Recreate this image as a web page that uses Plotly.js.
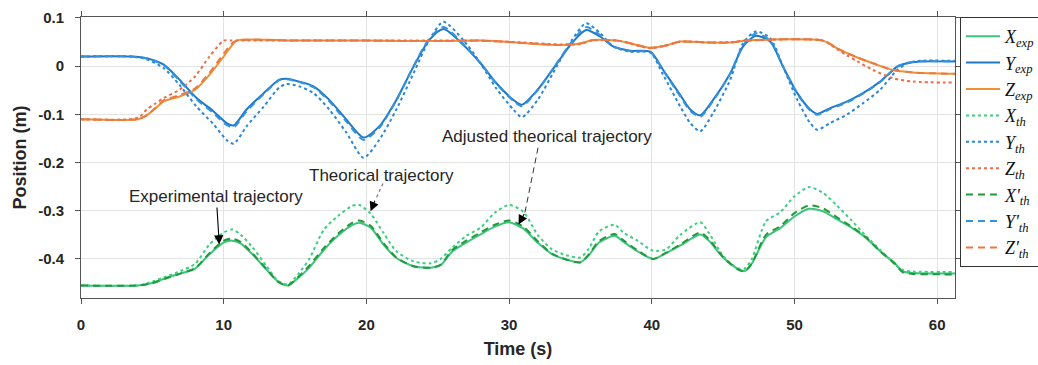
<!DOCTYPE html>
<html>
<head>
<meta charset="utf-8">
<script src="https://cdn.plot.ly/plotly-3.0.1.min.js"></script>
<style>html,body{margin:0;padding:0;background:#fff;}#chart{width:1038px;height:365px;}</style>
</head>
<body>
<div id="chart"></div>
<script>
// ---- Blue group (Y) ----
var tY = [0, 3.5, 4.6, 5.8, 6.9, 8.1, 9.3, 10.2, 10.7, 11.6, 12.8, 13.9, 14.4, 15.3, 16.3, 17.4, 18.6, 19.8, 20.9, 22.1, 23.3, 24.4, 25.4, 26.8, 28.0, 29.1, 30.3, 30.9, 32.0, 33.2, 34.4, 35.4, 36.4, 37.3, 38.5, 39.9, 40.8, 42.0, 42.7, 43.4, 44.3, 45.5, 46.4, 47.3, 48.3, 49.2, 50.2, 51.1, 51.6, 52.5, 53.7, 54.8, 56.0, 57.2, 57.9, 58.8, 61.3];
var yExp = [0.020, 0.020, 0.0165, 0.003, -0.028, -0.066, -0.094, -0.118, -0.123, -0.090, -0.056, -0.028, -0.026, -0.032, -0.042, -0.070, -0.111, -0.148, -0.125, -0.070, -0.001, 0.054, 0.077, 0.044, 0.006, -0.035, -0.070, -0.080, -0.049, -0.001, 0.048, 0.075, 0.061, 0.041, 0.032, 0.030, -0.008, -0.060, -0.090, -0.102, -0.070, -0.015, 0.041, 0.063, 0.051, -0.001, -0.056, -0.090, -0.099, -0.087, -0.073, -0.056, -0.032, -0.001, 0.006, 0.0095, 0.0095];
var yTh = [0.020, 0.020, 0.0145, -0.004, -0.039, -0.084, -0.121, -0.153, -0.161, -0.125, -0.084, -0.044, -0.037, -0.042, -0.056, -0.090, -0.138, -0.190, -0.153, -0.090, -0.015, 0.054, 0.092, 0.054, 0.006, -0.046, -0.090, -0.106, -0.070, -0.008, 0.054, 0.089, 0.068, 0.041, 0.030, 0.028, -0.018, -0.084, -0.118, -0.135, -0.097, -0.028, 0.048, 0.072, 0.058, -0.001, -0.070, -0.118, -0.132, -0.118, -0.100, -0.077, -0.049, -0.008, 0.006, 0.011, 0.011];
var yThAdj = [0.020, 0.020, 0.016, 0.002, -0.030, -0.069, -0.098, -0.122, -0.127, -0.094, -0.058, -0.029, -0.027, -0.033, -0.044, -0.073, -0.115, -0.153, -0.128, -0.071, 0.000, 0.057, 0.081, 0.046, 0.006, -0.036, -0.072, -0.083, -0.050, 0.000, 0.051, 0.081, 0.064, 0.041, 0.031, 0.029, -0.009, -0.063, -0.093, -0.105, -0.072, -0.015, 0.043, 0.068, 0.053, -0.001, -0.058, -0.092, -0.101, -0.089, -0.075, -0.057, -0.033, -0.001, 0.007, 0.010, 0.010];

// ---- Orange group (Z) ----
var tZ = [0, 4.0, 4.6, 5.2, 5.8, 6.9, 8.0, 9.0, 10.0, 10.5, 10.9, 15, 20, 25, 28, 29.5, 31, 33.6, 35.0, 35.8, 37.6, 38.7, 39.9, 41.0, 42.0, 44.0, 45.5, 46.6, 52.0, 53.0, 53.7, 54.4, 55.5, 56.9, 58.3, 61.3];
var zExp = [-0.110, -0.110, -0.102, -0.088, -0.073, -0.063, -0.049, -0.018, 0.020, 0.040, 0.053, 0.053, 0.053, 0.052, 0.053, 0.051, 0.048, 0.044, 0.047, 0.054, 0.053, 0.046, 0.038, 0.043, 0.051, 0.049, 0.049, 0.053, 0.053, 0.037, 0.027, 0.018, 0.006, -0.008, -0.013, -0.016];
var zTh = [-0.110, -0.107, -0.090, -0.078, -0.066, -0.049, -0.021, 0.020, 0.053, 0.053, 0.053, 0.053, 0.053, 0.053, 0.053, 0.051, 0.049, 0.045, 0.046, 0.053, 0.053, 0.045, 0.037, 0.043, 0.051, 0.049, 0.050, 0.053, 0.053, 0.035, 0.022, 0.010, -0.008, -0.025, -0.032, -0.034];
var zThAdj = [-0.110, -0.110, -0.102, -0.087, -0.071, -0.060, -0.046, -0.014, 0.026, 0.045, 0.053, 0.053, 0.053, 0.052, 0.053, 0.051, 0.048, 0.044, 0.047, 0.054, 0.053, 0.046, 0.038, 0.043, 0.051, 0.049, 0.049, 0.053, 0.053, 0.037, 0.027, 0.018, 0.006, -0.008, -0.013, -0.016];

// ---- Green group (X) ----
var tX = [0, 4, 5, 6, 7, 8, 9, 10, 10.6, 11.2, 12, 13, 13.8, 14.5, 15.2, 16, 17, 18, 19, 19.5, 20.3, 21.2, 22.1, 23.3, 24.5, 25.2, 26, 27, 28, 29, 30, 31, 32, 33, 34, 35, 35.6, 36.3, 37.4, 38, 39, 40.1, 41, 42, 43.4, 44, 45, 46, 46.5, 47, 48, 49, 50, 51, 52, 53, 54, 55, 56, 57, 57.6, 58.3, 61.3];
var xExp = [-0.455, -0.455, -0.450, -0.439, -0.430, -0.420, -0.390, -0.366, -0.362, -0.368, -0.390, -0.422, -0.447, -0.455, -0.440, -0.418, -0.382, -0.352, -0.330, -0.325, -0.335, -0.370, -0.398, -0.415, -0.418, -0.413, -0.385, -0.366, -0.349, -0.333, -0.324, -0.337, -0.366, -0.390, -0.401, -0.407, -0.392, -0.366, -0.352, -0.364, -0.384, -0.400, -0.388, -0.372, -0.349, -0.362, -0.397, -0.420, -0.425, -0.410, -0.355, -0.336, -0.312, -0.296, -0.301, -0.318, -0.335, -0.356, -0.384, -0.408, -0.426, -0.429, -0.430];
var xTh = [-0.455, -0.455, -0.447, -0.436, -0.425, -0.410, -0.370, -0.345, -0.339, -0.350, -0.375, -0.415, -0.445, -0.453, -0.432, -0.400, -0.340, -0.311, -0.290, -0.288, -0.306, -0.346, -0.384, -0.405, -0.409, -0.400, -0.377, -0.352, -0.335, -0.304, -0.288, -0.302, -0.350, -0.380, -0.392, -0.397, -0.378, -0.343, -0.329, -0.345, -0.362, -0.383, -0.380, -0.350, -0.324, -0.346, -0.394, -0.419, -0.420, -0.401, -0.322, -0.303, -0.270, -0.251, -0.263, -0.290, -0.320, -0.352, -0.381, -0.410, -0.423, -0.426, -0.427];
var xThAdj = [-0.455, -0.455, -0.450, -0.440, -0.430, -0.419, -0.388, -0.362, -0.358, -0.365, -0.388, -0.421, -0.447, -0.455, -0.438, -0.414, -0.378, -0.348, -0.325, -0.320, -0.331, -0.367, -0.397, -0.415, -0.418, -0.412, -0.382, -0.362, -0.345, -0.329, -0.320, -0.333, -0.363, -0.389, -0.401, -0.407, -0.390, -0.363, -0.348, -0.361, -0.382, -0.400, -0.387, -0.370, -0.345, -0.359, -0.396, -0.421, -0.426, -0.410, -0.350, -0.332, -0.305, -0.289, -0.295, -0.314, -0.333, -0.355, -0.384, -0.409, -0.428, -0.431, -0.432];

// ---- Labels ----
var legendNames = ['<i>X<sub>exp</sub></i>', '<i>Y<sub>exp</sub></i>', '<i>Z<sub>exp</sub></i>',
                   '<i>X<sub>th</sub></i>', '<i>Y<sub>th</sub></i>', '<i>Z<sub>th</sub></i>',
                   "<i>X'<sub>th</sub></i>", "<i>Y'<sub>th</sub></i>", "<i>Z'<sub>th</sub></i>"];
var xTickVals = [0, 10, 20, 30, 40, 50, 60];
var xTickText = ['0', '10', '20', '30', '40', '50', '60'];
var yTickVals = [0.1, 0, -0.1, -0.2, -0.3, -0.4];
var yTickText = ['0.1', '0', '-0.1', '-0.2', '-0.3', '-0.4'];
var annTexts = ['Experimental trajectory', 'Theorical trajectory', 'Adjusted theorical trajectory'];

function tr(t, v, name, color, dash, w) {
  return {x: t, y: v, name: name, type: 'scatter', mode: 'lines',
          line: {color: color, width: w || 2, dash: dash, shape: 'spline', smoothing: 0.7},
          hoverinfo: 'skip'};
}
var data = [
  tr(tX, xExp, legendNames[0], '#3cc47c', 'solid'),
  tr(tY, yExp, legendNames[1], '#1f78c8', 'solid'),
  tr(tZ, zExp, legendNames[2], '#ee9132', 'solid'),
  tr(tX, xTh, legendNames[3], '#3ccf80', 'dot'),
  tr(tY, yTh, legendNames[4], '#2b86d8', 'dot'),
  tr(tZ, zTh, legendNames[5], '#eb6e46', 'dot'),
  tr(tX, xThAdj, legendNames[6], '#22993a', '7px,5px'),
  tr(tY, yThAdj, legendNames[7], '#3393dd', '7px,5px'),
  tr(tZ, zThAdj, legendNames[8], '#ec7846', '7px,5px')
];

var tickFont = {family: 'Liberation Sans, Arial, sans-serif', size: 15, weight: 'bold', color: '#262626'};
var titleFont = {family: 'Liberation Sans, Arial, sans-serif', size: 18, weight: 'bold', color: '#262626'};
var annFont = {family: 'Liberation Sans, Arial, sans-serif', size: 17, color: '#262626'};

var layout = {
  width: 1038, height: 365,
  margin: {l: 81, r: 83, t: 17, b: 67, pad: 0, autoexpand: false},
  paper_bgcolor: '#ffffff', plot_bgcolor: '#ffffff',
  showlegend: true,
  legend: {x: 1.0057, xanchor: 'left', y: 1, yanchor: 'top',
           bgcolor: '#ffffff', bordercolor: '#333333', borderwidth: 1,
           font: {family: 'Liberation Serif, DejaVu Serif, serif', size: 18, color: '#111'},
           itemwidth: 34, tracegroupgap: 0},
  xaxis: {range: [0, 61.25], tickvals: xTickVals, ticktext: xTickText,
          ticks: 'outside', ticklen: 5, tickcolor: '#555', tickwidth: 1,
          showline: true, linecolor: '#555', linewidth: 1, mirror: 'ticks',
          showgrid: true, gridcolor: '#e3e3e3', gridwidth: 1, zeroline: false,
          tickfont: tickFont, ticklabelstandoff: 8,
          title: {text: 'Time (s)', font: titleFont, standoff: 10}},
  yaxis: {range: [-0.481, 0.102], tickvals: yTickVals, ticktext: yTickText,
          ticks: 'outside', ticklen: 5, tickcolor: '#555', tickwidth: 1,
          showline: true, linecolor: '#555', linewidth: 1, mirror: 'ticks',
          showgrid: true, gridcolor: '#e3e3e3', gridwidth: 1, zeroline: false,
          tickfont: tickFont, ticklabelstandoff: 8,
          title: {text: 'Position (m)', font: titleFont, standoff: 6}},
  shapes: [
    {type: 'line', xref: 'x', yref: 'y', x0: 21.16, y0: -0.2437, x1: 20.64, y1: -0.2768,
     line: {color: '#777', width: 1.2, dash: 'dot'}},
    {type: 'line', xref: 'x', yref: 'y', x0: 32.03, y0: -0.1693, x1: 31.11, y1: -0.3037,
     line: {color: '#333', width: 1, dash: '6px,4px'}}
  ],
  annotations: [
    {x: 9.69, y: -0.370, xref: 'x', yref: 'y', text: annTexts[0], font: annFont,
     showarrow: true, ax: -3, ay: -48, arrowhead: 2, arrowsize: 1.7, arrowwidth: 1.1, arrowcolor: '#000', standoff: 0},
    {x: 21.05, y: -0.2271, xref: 'x', yref: 'y', text: annTexts[1], font: annFont, showarrow: false},
    {x: 20.29, y: -0.301, xref: 'x', yref: 'y', text: '', showarrow: true, ax: 5, ay: -12,
     arrowhead: 2, arrowsize: 1.7, arrowwidth: 1.1, arrowcolor: '#000', standoff: 0},
    {x: 32.66, y: -0.1464, xref: 'x', yref: 'y', text: annTexts[2], font: annFont, showarrow: false},
    {x: 30.66, y: -0.3286, xref: 'x', yref: 'y', text: '', showarrow: true, ax: 6.5, ay: -12,
     arrowhead: 2, arrowsize: 1.7, arrowwidth: 1.1, arrowcolor: '#000', standoff: 0}
  ]
};

Plotly.newPlot('chart', data, layout, {displayModeBar: false, staticPlot: true});
</script>
</body>
</html>
